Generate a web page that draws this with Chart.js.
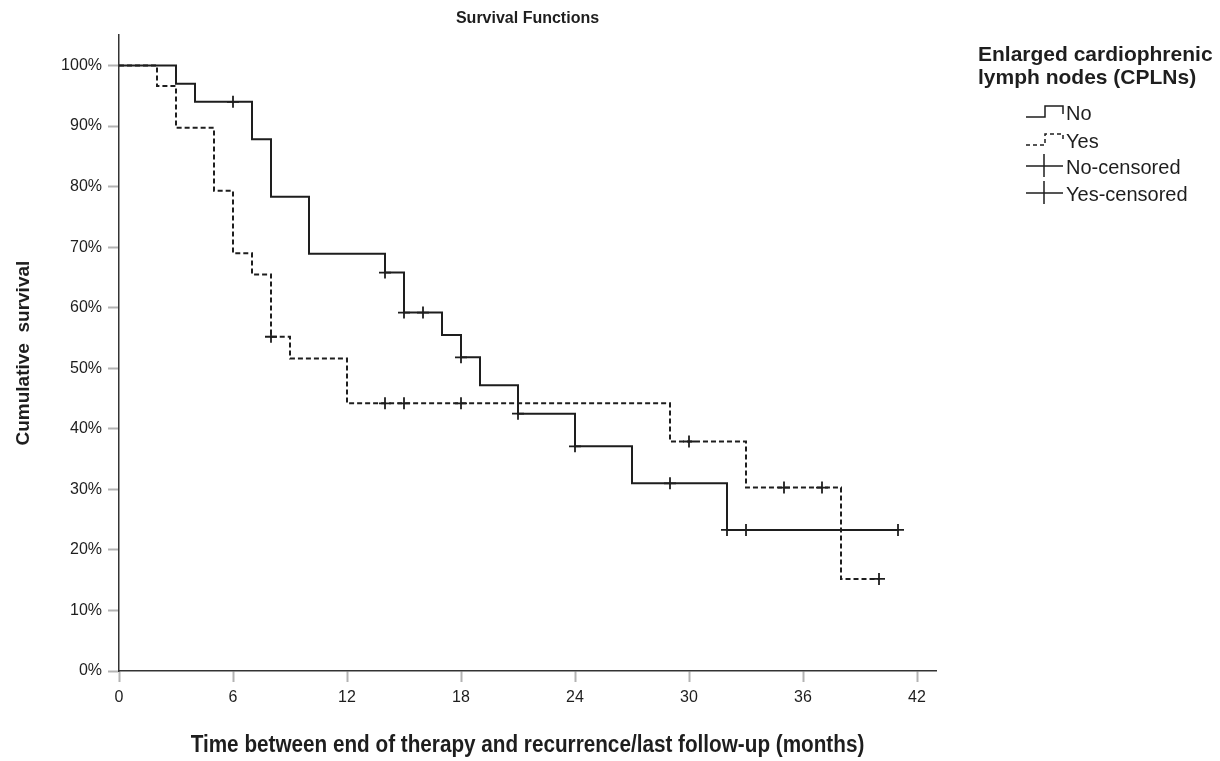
<!DOCTYPE html>
<html>
<head>
<meta charset="utf-8">
<script src="https://cdn.jsdelivr.net/npm/chart.js@4.4.0/dist/chart.umd.min.js"></script>
<style>
  body { margin: 0; background: #fff; }
</style>
</head>
<body>
<canvas id="chart" width="1220" height="761"></canvas>
<script>
// Kaplan-Meier steps, values (percent)
var noTimes = [0, 3, 4, 7, 8, 10, 14, 15, 17, 18, 19, 21, 24, 27, 32, 41];
var noSurv = [100, 97.0, 94.0, 87.8, 78.3, 68.9, 65.8, 59.2, 55.5, 51.8, 47.2, 42.5, 37.1, 31.0, 23.3, 23.3];

var yesTimes = [0, 2, 3, 5, 6, 7, 8, 9, 12, 29, 33, 38, 40];
var yesSurv = [100, 96.6, 89.7, 79.3, 69.0, 65.5, 55.2, 51.6, 44.2, 37.9, 30.3, 15.2, 15.2];

// censored marks
var noCensTimes = [6, 14, 15, 16, 18, 21, 24, 29, 32, 33, 41];
var noCensSurv = [94.0, 65.8, 59.2, 59.2, 51.8, 42.5, 37.1, 31.0, 23.3, 23.3, 23.3];
var yesCensTimes = [8, 14, 15, 18, 30, 35, 37, 40];
var yesCensSurv = [55.2, 44.2, 44.2, 44.2, 37.9, 30.3, 30.3, 15.2];

var legendLabels = ["No", "Yes", "No-censored", "Yes-censored"];
var legendTitle = ["Enlarged cardiophrenic", "lymph nodes (CPLNs)"];
var xTitle = "Time between end of therapy and recurrence/last follow-up (months)";

var FONT = "'Liberation Sans', Arial, sans-serif";
var INK = "#1e1e1e";

function pts(xs, ys) {
  return xs.map(function (x, i) { return { x: x, y: ys[i] }; });
}

// legend on the right + the condensed x title, spss style
var sideLegend = {
  id: "sideLegend",
  afterDraw: function (chart) {
    var ctx = chart.ctx;
    var area = chart.chartArea;
    ctx.save();
    ctx.fillStyle = INK;
    ctx.strokeStyle = INK;
    ctx.textBaseline = "alphabetic";

    // x axis title, squeezed like the original
    ctx.save();
    ctx.font = "bold 23px " + FONT;
    ctx.textAlign = "center";
    ctx.translate((area.left + area.right) / 2, 752);
    ctx.scale(0.9, 1);
    ctx.fillText(xTitle, 0, 0);
    ctx.restore();

    ctx.textAlign = "left";
    ctx.font = "bold 21px " + FONT;
    ctx.fillText(legendTitle[0], 978, 61);
    ctx.fillText(legendTitle[1], 978, 84);

    ctx.font = "20px " + FONT;
    var rows = [112, 140, 166, 193];
    ctx.lineWidth = 1.5;

    // step symbols
    [0, 1].forEach(function (i) {
      var y = rows[i];
      ctx.setLineDash(i === 1 ? [4, 3] : []);
      ctx.beginPath();
      ctx.moveTo(1026, y + 5);
      ctx.lineTo(1045, y + 5);
      ctx.lineTo(1045, y - 6);
      ctx.lineTo(1063, y - 6);
      ctx.lineTo(1063, y + 2);
      ctx.stroke();
    });
    ctx.setLineDash([]);
    // censor symbols
    [2, 3].forEach(function (i) {
      var y = rows[i];
      ctx.beginPath();
      ctx.moveTo(1026, y);
      ctx.lineTo(1063, y);
      ctx.moveTo(1044, y - 12);
      ctx.lineTo(1044, y + 11);
      ctx.stroke();
    });

    legendLabels.forEach(function (t, i) {
      ctx.fillText(t, 1066, rows[i] + 8);
    });
    ctx.restore();
  }
};

var ctx = document.getElementById("chart").getContext("2d");

var tickFont = { family: FONT, size: 16 };

new Chart(ctx, {
  type: "scatter",
  data: {
    datasets: [
      {
        label: "No",
        data: pts(noTimes, noSurv),
        showLine: true,
        stepped: "before",
        borderColor: INK,
        borderWidth: 2,
        pointRadius: 0
      },
      {
        label: "Yes",
        data: pts(yesTimes, yesSurv),
        showLine: true,
        stepped: "before",
        borderColor: INK,
        borderWidth: 2,
        borderDash: [5, 3],
        pointRadius: 0
      },
      {
        label: "No-censored",
        data: pts(noCensTimes, noCensSurv),
        pointStyle: "cross",
        pointRadius: 6,
        pointBorderWidth: 1.8,
        borderColor: INK
      },
      {
        label: "Yes-censored",
        data: pts(yesCensTimes, yesCensSurv),
        pointStyle: "cross",
        pointRadius: 6,
        pointBorderWidth: 1.8,
        borderColor: INK
      }
    ]
  },
  options: {
    responsive: false,
    animation: false,
    layout: { padding: { left: 0, right: 284, top: 0, bottom: 0 } },
    plugins: {
      legend: { display: false },
      tooltip: { enabled: false },
      title: {
        display: true,
        text: "Survival Functions",
        fullSize: false,
        color: INK,
        font: { family: FONT, size: 16, weight: "bold" },
        padding: { top: 9, bottom: 7 }
      }
    },
    scales: {
      x: {
        type: "linear",
        min: 0,
        max: 43,
        afterFit: function (s) { s.height = 90; },
        ticks: {
          stepSize: 6,
          includeBounds: false,
          padding: 6,
          maxRotation: 0,
          color: INK,
          font: tickFont
        },
        grid: {
          drawOnChartArea: false,
          drawTicks: true,
          tickLength: 11,
          tickColor: "#b3b3b3",
          tickWidth: 2
        },
        border: { color: "#333", width: 1.5 }
      },
      y: {
        min: 0,
        max: 105,
        afterFit: function (s) { s.width = 119; },
        ticks: {
          stepSize: 10,
          includeBounds: false,
          padding: 6,
          color: INK,
          font: tickFont,
          callback: function (v) { return v + "%"; }
        },
        grid: {
          drawOnChartArea: false,
          drawTicks: true,
          tickLength: 11,
          tickColor: "#b3b3b3",
          tickWidth: 2
        },
        border: { color: "#333", width: 1.5 },
        title: {
          display: true,
          text: "Cumulative  survival",
          color: INK,
          font: { family: FONT, size: 19, weight: "bold" },
          padding: { top: 12, bottom: 0 }
        }
      }
    }
  },
  plugins: [sideLegend]
});
</script>
</body>
</html>
